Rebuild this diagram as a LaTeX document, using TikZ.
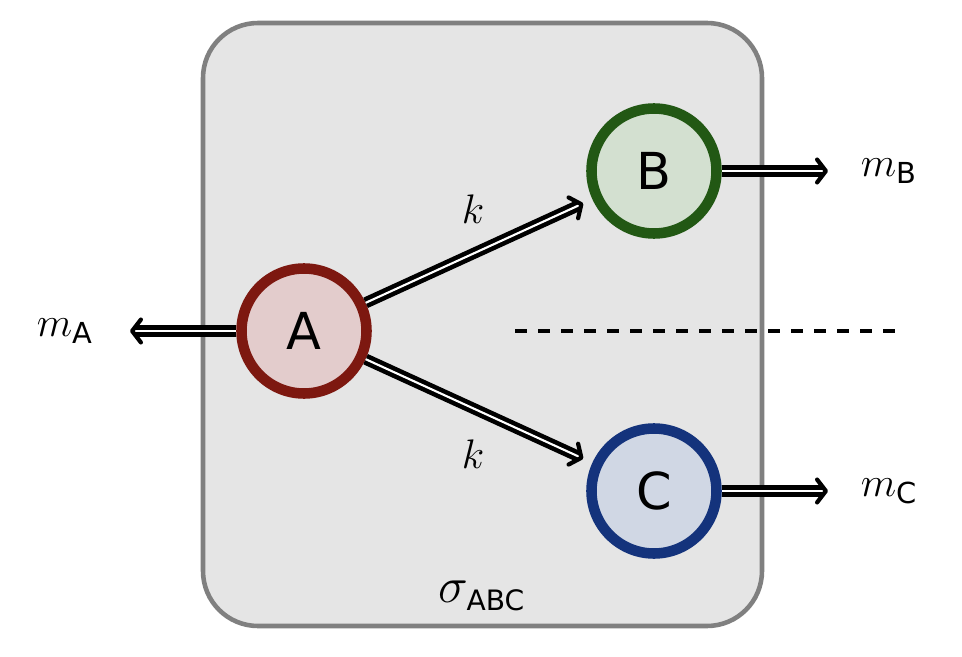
\documentclass[tikz,border=0pt]{standalone}
\usepackage{fix-cm}
\usepackage{amsmath}
\usepackage{fontspec}
\setsansfont{DejaVu Sans}
\usepackage{tikz}
\usetikzlibrary{
	arrows.meta,
	positioning
}
\definecolor{DarkRed}{RGB}{125,24,16}
\definecolor{PaleRed}{RGB}{227,204,204}
\definecolor{DarkGreen}{RGB}{34,88,20}
\definecolor{PaleGreen}{RGB}{211,224,208}
\definecolor{DarkBlue}{RGB}{20,51,124}
\definecolor{PaleBlue}{RGB}{208,215,228}
\definecolor{FrameGray}{RGB}{128,128,128}
\definecolor{FrameFill}{RGB}{229,229,229}

\begin{document}
\begin{tikzpicture}[
		species/.style={circle, line width=6pt, minimum size=2.5cm, inner sep=0pt,
			font=\sffamily\fontsize{29}{34}\selectfont},
		flow/.style={double, double distance=1.2pt, line width=2.6pt,
			-{Straight Barb[length=5pt, width=13pt, line width=2.4pt, round]}},
		lbl/.style={font=\fontsize{23.5}{28}\selectfont}
	]
		\useasboundingbox (0,0) rectangle (19.24,13.12);
		% compartment
		\draw[line width=2.6pt, draw=FrameGray, fill=FrameFill, rounded corners=1.1cm]
			(4.06,0.6) rectangle (15.24,12.66);
		\node[font=\fontsize{28.5}{34}\selectfont] (sig) at (9.64,1.2)
			{$\sigma_{\text{\fontsize{16}{19}\selectfont\sffamily ABC}}$};
		\coordinate (D1) at (10.3,6.5);
		\coordinate (D2) at (17.9,6.5);
		\draw[line width=2.5pt, dash pattern=on 6.8pt off 6.3pt] (D1)--(D2);
		% species
		\node[species, draw=DarkRed, fill=PaleRed] (A) at (6.08,6.5) {A};
		\node[species, draw=DarkGreen, fill=PaleGreen] (B) at (13.08,9.7) {B};
		\node[species, draw=DarkBlue, fill=PaleBlue] (C) at (13.08,3.3) {C};
		% outflows
		\coordinate (tA) at (2.6,6.5);
		\coordinate (tB) at (16.56,9.7);
		\coordinate (tC) at (16.56,3.3);
		\foreach \p/\x/\y in {A/1.3/6.5, B/17.78/9.7, C/17.78/3.3}
		\node[lbl] (m\p) at (\x,\y) {$m_{\mathsf{\p}}$};
		\draw[flow] (A) -- (tA);
		\draw[flow] (B) -- (tB);
		\draw[flow] (C) -- (tC);
		% reactions
		\draw[flow, shorten >=0.2cm] (A) -- node[lbl, above=0.38cm, xshift=-0.12cm] (kB) {$k$} (B);
		\draw[flow, shorten >=0.2cm] (A) -- node[lbl, below=0.42cm, xshift=-0.12cm] (kC) {$k$} (C);
	\end{tikzpicture}
\end{document}
